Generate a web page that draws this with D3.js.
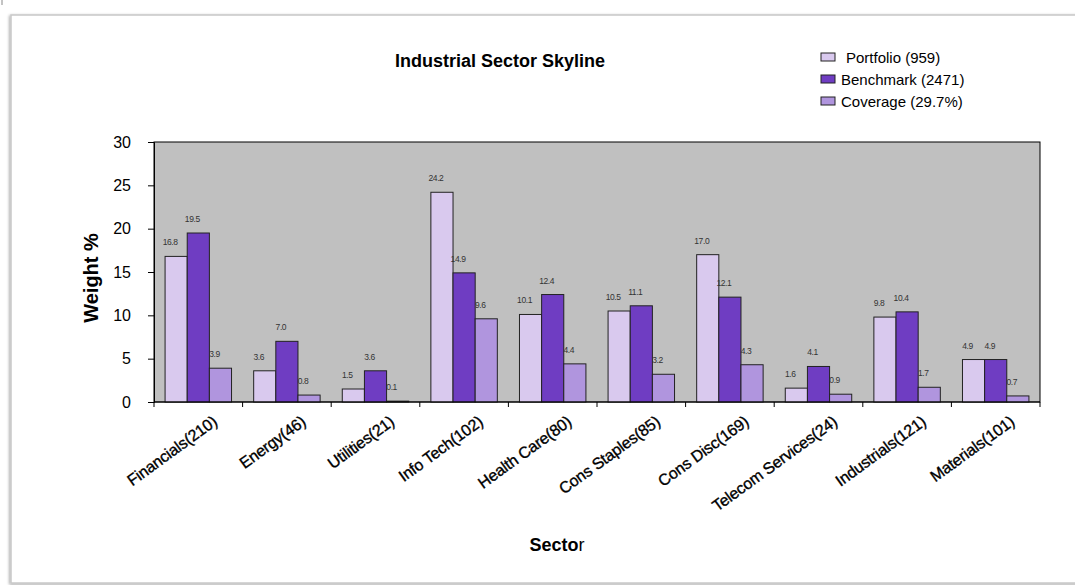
<!DOCTYPE html>
<html>
<head>
    <meta charset="utf-8">
    <title>Industrial Sector Skyline</title>
    <script src="https://d3js.org/d3.v7.min.js"></script>
    <style>
        body { margin: 0; background: #fff; }
        text { font-family: "Liberation Sans", Arial, sans-serif; }
    </style>
</head>
<body>
<svg width="1075" height="585"></svg>
<script>
    const width = 1075;
    const height = 585;

    // data
    const sectors = ["Financials(210)", "Energy(46)", "Utilities(21)", "Info Tech(102)", "Health Care(80)",
        "Cons Staples(85)", "Cons Disc(169)", "Telecom Services(24)", "Industrials(121)", "Materials(101)"];
    const seriesNames = ["Portfolio (959)", "Benchmark (2471)", "Coverage (29.7%)"];
    const portfolio = [16.8, 3.6, 1.5, 24.2, 10.1, 10.5, 17.0, 1.6, 9.8, 4.9];
    const benchmark = [19.5, 7.0, 3.6, 14.9, 12.4, 11.1, 12.1, 4.1, 10.4, 4.9];
    const coverage = [3.9, 0.8, 0.1, 9.6, 4.4, 3.2, 4.3, 0.9, 1.7, 0.7];
    const yTicks = [0, 5, 10, 15, 20, 25, 30];
    const colors = ["#d9c9ee", "#6f3dc2", "#b095de"];

    const seriesValues = [portfolio, benchmark, coverage];

    const svg = d3.select("svg");

    // outer frame with soft shadow
    const defs = svg.append("defs");
    const shadow = defs.append("filter").attr("id", "shadow")
        .attr("x", "-5%").attr("y", "-5%").attr("width", "110%").attr("height", "110%");
    shadow.append("feGaussianBlur").attr("in", "SourceAlpha").attr("stdDeviation", 1.5).attr("result", "b");
    shadow.append("feOffset").attr("in", "b").attr("dx", -1).attr("dy", 1).attr("result", "o");
    shadow.append("feComponentTransfer").attr("in", "o").attr("result", "s")
        .append("feFuncA").attr("type", "linear").attr("slope", 0.35);
    const merge = shadow.append("feMerge");
    merge.append("feMergeNode").attr("in", "s");
    merge.append("feMergeNode").attr("in", "SourceGraphic");

    svg.append("rect")
        .attr("x", 11).attr("y", 15)
        .attr("width", 1080).attr("height", 568)
        .attr("fill", "#fff")
        .attr("stroke", "#c8c8c8")
        .attr("stroke-width", 1.5)
        .attr("filter", "url(#shadow)");

    svg.append("line")
        .attr("x1", 2).attr("x2", 2).attr("y1", 0).attr("y2", 5)
        .attr("stroke", "#888").attr("stroke-width", 1);

    const margin = { left: 154, right: 1040, top: 142, bottom: 402 };

    const x = d3.scaleBand()
        .domain(sectors)
        .range([margin.left, margin.right])
        .paddingInner(0)
        .paddingOuter(0);

    const x1 = d3.scaleBand()
        .domain(d3.range(seriesNames.length))
        .range([0, x.bandwidth()])
        .paddingOuter(0.5)
        .paddingInner(0);

    const y = d3.scaleLinear()
        .domain([0, 30])
        .range([margin.bottom, margin.top]);

    // plot background
    svg.append("rect")
        .attr("x", margin.left).attr("y", margin.top)
        .attr("width", margin.right - margin.left)
        .attr("height", margin.bottom - margin.top)
        .attr("fill", "#c0c0c0")
        .attr("stroke", "#000")
        .attr("stroke-width", 1);

    // bars
    const groups = svg.append("g").selectAll("g")
        .data(sectors)
        .join("g")
        .attr("transform", d => `translate(${x(d)},0)`);

    groups.selectAll("rect")
        .data((d, i) => seriesValues.map((vals, s) => ({ s, v: vals[i] })))
        .join("rect")
        .attr("x", d => x1(d.s))
        .attr("y", d => y(d.v))
        .attr("width", x1.bandwidth())
        .attr("height", d => y(0) - y(d.v))
        .attr("fill", d => colors[d.s])
        .attr("stroke", "#222")
        .attr("stroke-width", 1);

    groups.selectAll("text")
        .data((d, i) => seriesValues.map((vals, s) => ({ s, v: vals[i] })))
        .join("text")
        .attr("x", d => x1(d.s) + x1.bandwidth() / 2 - 6)
        .attr("y", d => y(d.v) - 11)
        .attr("text-anchor", "middle")
        .attr("font-size", 8.5)
        .attr("fill", "#333")
        .attr("letter-spacing", -0.4)
        .text(d => d.v.toFixed(1));

    // y axis
    const yAxis = svg.append("g")
        .attr("transform", `translate(${margin.left},0)`)
        .call(d3.axisLeft(y).tickValues(yTicks).tickSize(6).tickPadding(17));
    yAxis.select(".domain").attr("stroke", "#000");
    yAxis.selectAll("text").attr("font-size", 16).attr("fill", "#000")
        .attr("font-family", "Liberation Sans, Arial, sans-serif");

    // x axis with ticks at category boundaries
    const xAxis = svg.append("g")
        .attr("transform", `translate(0,${margin.bottom})`);
    xAxis.append("line")
        .attr("x1", margin.left).attr("x2", margin.right)
        .attr("stroke", "#000");
    xAxis.selectAll("line.tick")
        .data(sectors.concat(["end"]))
        .join("line")
        .attr("class", "tick")
        .attr("x1", (d, i) => i < sectors.length ? x(d) : margin.right)
        .attr("x2", (d, i) => i < sectors.length ? x(d) : margin.right)
        .attr("y1", 0).attr("y2", 5)
        .attr("stroke", "#000");
    xAxis.selectAll("text")
        .data(sectors)
        .join("text")
        .attr("transform", d => `translate(${x(d) + x.bandwidth() / 2 + 20},22) rotate(-36)`)
        .attr("text-anchor", "end")
        .attr("font-size", 16)
        .attr("letter-spacing", -0.2)
        .attr("fill", "#000")
        .attr("stroke", "#000")
        .attr("stroke-width", 0.35)
        .text(d => d);

    // titles
    svg.append("text")
        .attr("x", 500).attr("y", 67)
        .attr("text-anchor", "middle")
        .attr("font-size", 18)
        .attr("font-weight", "bold")
        .text("Industrial Sector Skyline");

    svg.append("text")
        .attr("transform", "translate(98,278) rotate(-90)")
        .attr("text-anchor", "middle")
        .attr("font-size", 20)
        .attr("font-weight", "bold")
        .text("Weight %");

    const sectorTitle = svg.append("text")
        .attr("x", 557).attr("y", 551)
        .attr("text-anchor", "middle")
        .attr("font-size", 18);
    sectorTitle.append("tspan").attr("font-weight", "bold").text("Secto");
    sectorTitle.append("tspan").text("r");

    // legend
    const legend = svg.append("g").selectAll("g")
        .data(seriesNames)
        .join("g")
        .attr("transform", (d, i) => `translate(821,${53 + i * 22})`);
    legend.append("rect")
        .attr("width", 14).attr("height", 8)
        .attr("fill", (d, i) => colors[i])
        .attr("stroke", "#222");
    legend.append("text")
        .attr("x", (d, i) => i === 0 ? 25 : 20)
        .attr("y", 10)
        .attr("font-size", 15)
        .text(d => d);
</script>
</body>
</html>
